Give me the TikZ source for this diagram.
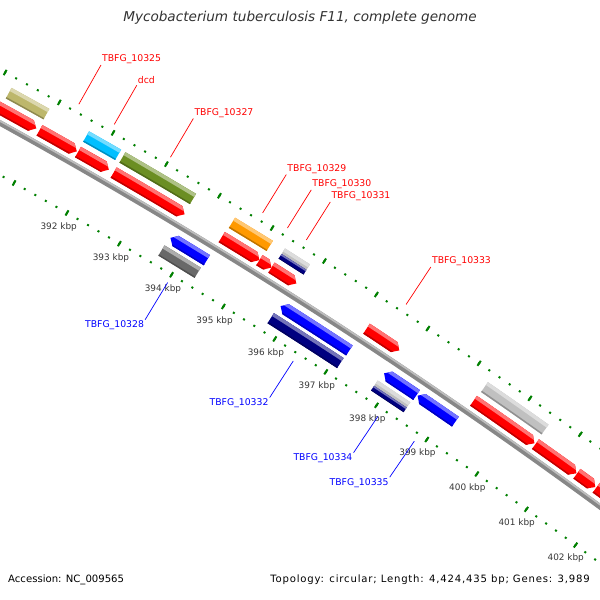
\documentclass[tikz,border=0pt]{standalone}
\usepackage{fontspec}
\setmainfont{DejaVu Sans}
\usepackage{tikz}
\usepackage{xcolor}

\definecolor{genered}{RGB}{255,0,0}
\definecolor{geneblue}{RGB}{0,0,255}
\definecolor{genenavy}{RGB}{0,0,128}
\definecolor{genekhaki}{RGB}{189,183,107}
\definecolor{genecyan}{RGB}{0,191,255}
\definecolor{geneolive}{RGB}{107,142,35}
\definecolor{geneorange}{RGB}{255,153,0}
\definecolor{genesilver}{RGB}{192,192,192}
\definecolor{genegray}{RGB}{105,105,105}
\definecolor{backbonegray}{RGB}{135,135,135}
\definecolor{tickgreen}{RGB}{0,128,0}
\definecolor{kbpgray}{RGB}{55,55,55}

\tikzset{
  backbone/.style={line width=5.5pt, backbonegray},
  backbonetop/.style={line width=1.8pt, backbonegray!55!white},
  kbptick/.style={line width=2pt, tickgreen},
  kbpdot/.style={line width=2pt, tickgreen},
  kbplabel/.style={font=\fontsize{8.9}{11}\selectfont, text=kbpgray, inner sep=0pt},
  fwdlabel/.style={font=\fontsize{9.3}{11}\selectfont, text=genered, anchor=south west, inner sep=1pt},
  revlabel/.style={font=\fontsize{9.3}{11}\selectfont, text=geneblue, anchor=north east, inner sep=1pt},
  fwdlead/.style={genered, line width=0.7pt},
  revlead/.style={geneblue, line width=0.7pt},
  maptitle/.style={font=\fontsize{13.6}{16}\selectfont\itshape, text=black!80},
  footer/.style={font=\fontsize{10.1}{12}\selectfont, inner sep=0pt}
}

% start, end (kbp), inner and outer radius, arrow (1 fwd, -1 rev, 0 none), colour
\newcommand{\genefeature}[6]{
  \pgfmathsetmacro{\gA}{60.07-0.6418*(#1-392)}
  \pgfmathsetmacro{\gB}{60.07-0.6418*(#2-392)}
  \pgfmathsetmacro{\gAb}{\gA-((#5<0)?0.063:0)}
  \pgfmathsetmacro{\gBb}{\gB+((#5>0)?0.063:0)}
  \pgfmathsetmacro{\gM}{(#3+#4)/2}
  \pgfmathsetmacro{\gW}{#4-#3+2}
  \pgfmathsetmacro{\gL}{0.3*(#4-#3)}
  \pgfmathsetmacro{\gLr}{#4-0.15*(#4-#3)}
  \pgfmathsetmacro{\gD}{0.24*(#4-#3)}
  \begin{scope}
    \clip (\gA:\gM) -- (\gAb:#3) arc[start angle=\gAb, end angle=\gBb, radius=#3]
      -- (\gB:\gM) -- (\gBb:#4) arc[start angle=\gBb, end angle=\gAb, radius=#4] -- cycle;
    \draw[line width=\gW pt, #6] (\gA+0.2:\gM) arc[start angle=\gA+0.2, end angle=\gB-0.2, radius=\gM];
    \draw[line width=\gL pt, #6!55!white] (\gA+0.2:\gLr) arc[start angle=\gA+0.2, end angle=\gB-0.2, radius=\gLr];
    \draw[line width=\gD pt, #6!75!black] (\gA+0.2:#3) arc[start angle=\gA+0.2, end angle=\gB-0.2, radius=#3];
  \end{scope}
}

\begin{document}
\begin{tikzpicture}[x=1pt,y=1pt]
\useasboundingbox (0,0) rectangle (600,-600);
\fill[white] (0,0) rectangle (600,-600);
\begin{scope}
\clip (0,0) rectangle (600,-600);
\begin{scope}[shift={(-2640,-4914.8)}]
% backbone and the two tick rings
\draw[backbone] (61.995:5471) arc[start angle=61.995, end angle=52.368, radius=5471];
\draw[backbonetop] (61.995:5472.8) arc[start angle=61.995, end angle=52.368, radius=5472.8];
\foreach \k in {3890,3892,...,4040}{
  \draw[kbpdot] ({60.07-0.06418*(\k-3920)}:5517) -- ({60.07-0.06418*(\k-3920)}:5519);
  \draw[kbpdot] ({60.07-0.06418*(\k-3920)}:5424.6) -- ({60.07-0.06418*(\k-3920)}:5426.6);
}
\foreach \k in {389,...,404}{
  \draw[kbptick] ({60.07-0.6418*(\k-392)}:5515) -- ({60.07-0.6418*(\k-392)}:5521);
  \draw[kbptick] ({60.07-0.6418*(\k-392)}:5422.6) -- ({60.07-0.6418*(\k-392)}:5428.6);
}
\foreach \k in {392,...,402}
  \node[kbplabel] (k\k) at ({60.07-0.6418*(\k-392)}:5409) {\k\ kbp};

% forward strand
\genefeature{389.3}{390.88}{5478}{5490}{1}{genered}
\genefeature{390.94}{391.64}{5478}{5490}{1}{genered}
\genefeature{391.66}{392.24}{5478}{5490}{1}{genered}
\genefeature{392.33}{393.67}{5478}{5490}{1}{genered}
\genefeature{394.38}{395.10}{5478}{5490}{1}{genered}
\genefeature{395.10}{395.33}{5478}{5490}{1}{genered}
\genefeature{395.33}{395.81}{5478}{5490}{1}{genered}
\genefeature{397.17}{397.81}{5478}{5490}{1}{genered}
\genefeature{399.27}{400.48}{5478}{5490}{1}{genered}
\genefeature{400.50}{401.32}{5478}{5490}{1}{genered}
\genefeature{401.33}{401.70}{5478}{5490}{1}{genered}
\genefeature{401.72}{403.00}{5478}{5490}{1}{genered}
\genefeature{390.21}{390.91}{5495.5}{5507.5}{0}{genekhaki}
\genefeature{391.65}{392.25}{5495.5}{5507.5}{0}{genecyan}
\genefeature{392.33}{393.66}{5495.5}{5507.5}{0}{geneolive}
\genefeature{394.40}{395.12}{5495.5}{5507.5}{0}{geneorange}
\genefeature{395.35}{395.83}{5495.5}{5507.5}{0}{genesilver}
\genefeature{395.35}{395.83}{5495.5}{5501}{0}{genenavy}
\genefeature{399.29}{400.49}{5495.5}{5507.5}{0}{genesilver}

% reverse strand
\genefeature{393.67}{394.37}{5450.5}{5462.5}{-1}{geneblue}
\genefeature{395.79}{397.13}{5450.5}{5462.5}{-1}{geneblue}
\genefeature{397.81}{398.45}{5450.5}{5462.5}{-1}{geneblue}
\genefeature{398.47}{399.22}{5450.5}{5462.5}{-1}{geneblue}
\genefeature{393.65}{394.35}{5435}{5447}{0}{genegray}
\genefeature{395.76}{397.12}{5435}{5447}{0}{genenavy}
\genefeature{397.79}{398.43}{5435}{5447}{0}{genesilver}
\genefeature{397.79}{398.43}{5435}{5440.5}{0}{genenavy}

% labels
\foreach \s/\id/\txt in {391.29/10325/TBFG\_10325, 391.95/dcd/dcd, 393.00/10327/TBFG\_10327,
    394.74/10329/TBFG\_10329, 395.21/10330/TBFG\_10330, 395.57/10331/TBFG\_10331, 397.49/10333/TBFG\_10333}{
  \coordinate (f\id) at ({60.07-0.6418*(\s-392)}:5526);
  \node[fwdlabel] (t\id) at ({60.07-0.6418*(\s-392)}:5571) {\txt};
  \draw[fwdlead] (f\id) -- (t\id.south west);
}
\foreach \s/\id in {394.01/10328, 396.45/10332, 398.12/10334, 398.845/10335}{
  \coordinate (r\id) at ({60.07-0.6418*(\s-392)}:5417);
  \node[revlabel] (t\id) at ({60.07-0.6418*(\s-392)}:5373.5) {TBFG\_\id};
  \draw[revlead] (r\id) -- (t\id.north east);
}
\end{scope}
\end{scope}

\node[maptitle] (title) at (300,-18) {Mycobacterium tuberculosis F11, complete genome};
\node[footer, anchor=west] (accession) at (8,-580) {Accession: NC\_009565};
\node[footer, anchor=east, font=\fontsize{10.1}{12}\selectfont\addfontfeature{LetterSpace=8}] (topology) at (590,-580) {Topology: circular; Length: 4,424,435 bp; Genes: 3,989};
\end{tikzpicture}
\end{document}
